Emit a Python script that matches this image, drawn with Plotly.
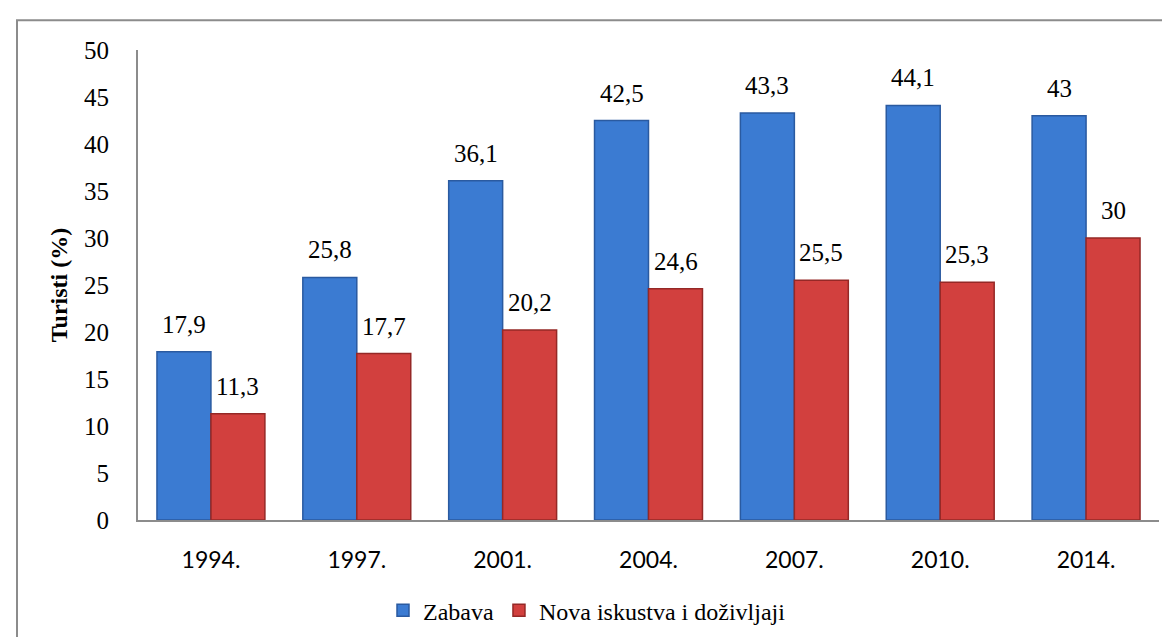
import plotly.graph_objects as go

years = ["1994.", "1997.", "2001.", "2004.", "2007.", "2010.", "2014."]
zabava = [17.9, 25.8, 36.1, 42.5, 43.3, 44.1, 43.0]
nova = [11.3, 17.7, 20.2, 24.6, 25.5, 25.3, 30.0]
labels_zabava = ["17,9", "25,8", "36,1", "42,5", "43,3", "44,1", "43"]
labels_nova = ["11,3", "17,7", "20,2", "24,6", "25,5", "25,3", "30"]
series_names = ["Zabava", "Nova iskustva i doživljaji"]
y_ticks = [0, 5, 10, 15, 20, 25, 30, 35, 40, 45, 50]

SERIF = "Liberation Serif"
SANS = "Lato"
BLUE = "#3b7bd2"
BLUE_EDGE = "#2a5aa0"
RED = "#d2403e"
RED_EDGE = "#952826"

fig = go.Figure()
fig.add_trace(go.Bar(name=series_names[0], x=years, y=zabava,
                     marker=dict(color=BLUE, line=dict(color=BLUE_EDGE, width=1.5))))
fig.add_trace(go.Bar(name=series_names[1], x=years, y=nova,
                     marker=dict(color=RED, line=dict(color=RED_EDGE, width=1.5))))

annotations = []
for i in range(len(years)):
    for vals, labs, shift in ((zabava, labels_zabava, -27), (nova, labels_nova, 27)):
        # category axis: annotation x given as the category's serial index
        annotations.append(dict(x=i, y=vals[i], text=labs[i], showarrow=False,
                                xref="x", yref="y", xshift=shift, yshift=12,
                                yanchor="bottom", xanchor="center",
                                font=dict(family=SERIF, size=25, color="black")))

W, H = 1170, 637
ml, mr, mt, mb = 130, 19, 42, 123
pw, ph = W - ml - mr, H - mt - mb

fig.update_layout(
    width=W, height=H,
    margin=dict(l=ml, r=mr, t=mt, b=mb),
    paper_bgcolor="white", plot_bgcolor="white",
    font=dict(family=SERIF, color="black"),
    barmode="group", bargap=0.26, bargroupgap=0,
    annotations=annotations,
    legend=dict(orientation="h", x=(375 - ml) / pw, xanchor="left",
                y=(mt + ph - 605) / ph, yanchor="middle",
                font=dict(family=SERIF, size=24, color="black"),
                itemwidth=30, tracegroupgap=0),
    shapes=[dict(type="rect", xref="paper", yref="paper",
                 x0=(9 - ml) / pw, x1=1.1, y0=-0.5, y1=1 + (mt - 12) / ph,
                 line=dict(color="#8c8c8c", width=2), fillcolor="rgba(0,0,0,0)",
                 layer="below")],
)
fig.update_yaxes(range=[0, 50], tickvals=y_ticks, showgrid=False, zeroline=False,
                 showline=True, linecolor="#8c8c8c", linewidth=2,
                 ticks="", ticklabelstandoff=22,
                 tickfont=dict(family=SERIF, size=25, color="black"),
                 title=dict(text="<b>Turisti (%)</b>", standoff=10,
                            font=dict(family=SERIF, size=24, color="black")))
fig.update_xaxes(type="category", range=[-0.5, len(years) - 0.5],
                 showgrid=False, showline=True,
                 linecolor="#8c8c8c", linewidth=2,
                 ticks="", ticklabelstandoff=18,
                 tickfont=dict(family=SANS, size=23, color="black"))

fig.write_html("out.html")
